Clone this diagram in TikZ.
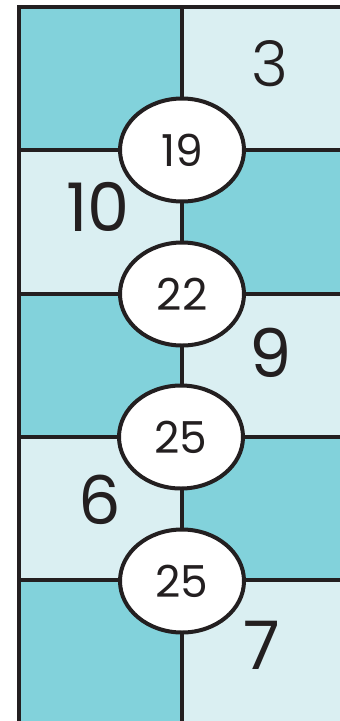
\documentclass[tikz,border=0pt]{standalone}
\usepackage{fontspec}
\setmainfont{Poppins}
\newfontfamily\plight{Poppins Light}
\usetikzlibrary{shapes.geometric}
\definecolor{tdark}{HTML}{82D2DB}
\definecolor{tlight}{HTML}{DAEFF2}
\definecolor{ink}{HTML}{231F20}
\tikzset{
  gridline/.style={draw=ink, line width=3.5pt},
  oval/.style={ellipse, draw=ink, fill=white, line width=4pt, minimum width=124pt, minimum height=103pt, inner sep=0pt, text=ink, font=\fontsize{44}{44}\selectfont},
  bignum/.style={inner sep=0pt, text=ink, font=\fontsize{67}{67}\selectfont},
  thinnum/.style={inner sep=0pt, text=ink, font=\plight\fontsize{63}{63}\selectfont}
}
\begin{document}
\begin{tikzpicture}[x=1pt,y=-1pt]
\useasboundingbox (0,0) rectangle (340,721);
\clip (0,0) rectangle (340,721);
\fill[white] (0,0) rectangle (340,721);
% cells
\fill[tdark]  (19,7) rectangle (182,150);
\fill[tlight] (182,7) rectangle (350,150);
\fill[tlight] (19,150) rectangle (182,294);
\fill[tdark]  (182,150) rectangle (350,294);
\fill[tdark]  (19,294) rectangle (182,437);
\fill[tlight] (182,294) rectangle (350,437);
\fill[tlight] (19,437) rectangle (182,580);
\fill[tdark]  (182,437) rectangle (350,580);
\fill[tdark]  (19,580) rectangle (182,730);
\fill[tlight] (182,580) rectangle (350,730);
% grid
\draw[gridline] (17.25,7) -- (350,7);
\draw[gridline] (19,5.25) -- (19,730);
\draw[gridline] (182,7) -- (182,730);
\foreach \yy in {150,294,437,580} \draw[gridline] (19,\yy) -- (350,\yy);
% ovals
\node[oval] (e1) at (182,150) {19};
\node[oval] (e2) at (182,294) {22};
\node[oval] (e3) at (181,437) {25};
\node[oval] (e4) at (182,581) {25};
% numbers
\node[thinnum] (n3) at (270,64) {3};
\node[bignum] (n10) at (98,207) {10};
\node[bignum] (n9) at (271,353) {9};
\node[bignum] (n6) at (100,500) {6};
\node[bignum] (n7) at (262,645) {7};
\end{tikzpicture}
\end{document}
